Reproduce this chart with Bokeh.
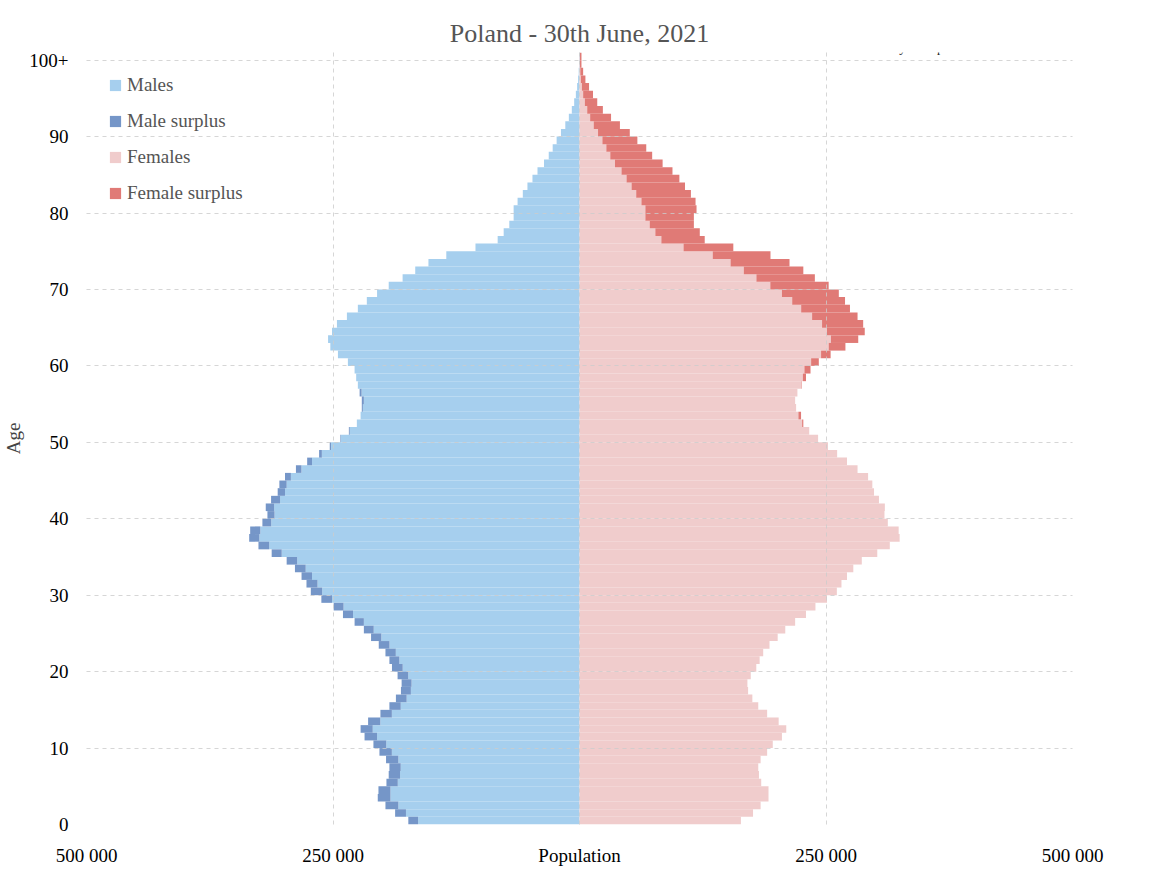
from bokeh.plotting import figure
from bokeh.models import Range1d, FixedTicker, Label, Legend, LegendItem, ColumnDataSource
from bokeh.embed import file_html
from bokeh.resources import INLINE

ages = list(range(0, 101))
males_k = [173.6,187,196.8,204.6,203.9,195.8,193.5,192.8,196.2,202.9,
           209,218,222,214.4,201.9,192.8,186.2,181.1,180.4,184.5,
           190.2,192.8,196.8,203.6,211.4,218.7,228.1,239.9,249.3,261.8,
           272.5,276.9,281.9,288.6,297,312.2,325.6,335,334,321.6,
           316.5,318.2,312.8,306.1,304.4,298.7,287.6,276.2,264.1,253.3,
           242.6,233.9,225.8,222,220.8,220.8,223,224.8,226.5,228.1,
           234.9,245,252.7,255,251,246,235.9,224.8,215.7,205.3,
           193.5,179.4,166.6,153.2,135.1,105.5,83,76.9,71.2,66.8,
           66.8,62.8,57.5,52.8,47.7,42.6,36,31.2,27.2,23.2,
           18.8,14.4,10.8,7.8,5.4,3.7,2.4,1.4,0.8,0.5,0.5]
females_k = [163.7,176,183.7,191.7,191.7,184.3,182,181.3,183.7,190.3,
             196,205.3,209.7,202,190.3,181.3,175.3,171,170.3,173.7,
             179.3,182.7,186.3,192.7,201,208.7,218.7,229.7,239.3,251,
             261,265.7,271.3,277.7,286.3,302,314.7,324.7,323.7,312.7,
             309.3,309.7,303.7,298.7,297,292.7,282,271.3,261.3,252,
             242,233,227,224.7,219.7,218.7,221,225.3,229.7,234.3,
             242.7,254.7,269.7,282.7,289.3,287.7,282,274.3,269.3,263,
             252.7,238.7,227,213,193.7,156,127,122,116,116,
             118.7,117.7,113,107,101.3,94.3,84.3,73.7,67.7,58.7,
             51,41,32,23.7,18,13.7,9.7,6,3.7,2,2]
y_ticks = [0,10,20,30,40,50,60,70,80,90,100]
y_labels = ["0","10","20","30","40","50","60","70","80","90","100+"]
x_ticks = [-500000,-250000,0,250000,500000]
x_labels = ["500 000","250 000","Population","250 000","500 000"]

m = [v*1000 for v in males_k]
f = [v*1000 for v in females_k]
mn = [min(a, b) for a, b in zip(m, f)]
bottom = ages
top = [a+1 for a in ages]

FONT = "Liberation Serif"
p = figure(width=1136, height=875, output_backend="svg", toolbar_location=None,
           x_range=Range1d(-500000, 500000), y_range=Range1d(0, 101),
           min_border_left=79, min_border_right=64, min_border_top=52, min_border_bottom=51)
p.outline_line_color = None
p.background_fill_color = "white"

r1 = p.quad(left=[-v for v in mn], right=[0]*101, bottom=bottom, top=top, color="#A6CFEE", line_width=0)
r2 = p.quad(left=[-v for v in m], right=[-v for v in mn], bottom=bottom, top=top, color="#7596C8", line_width=0)
r3 = p.quad(left=[0]*101, right=mn, bottom=bottom, top=top, color="#F0CCCC", line_width=0)
r4 = p.quad(left=mn, right=f, bottom=bottom, top=top, color="#E07A76", line_width=0)

for ax in (p.xaxis, p.yaxis):
    ax.axis_line_color = None
    ax.major_tick_line_color = None
    ax.minor_tick_line_color = None
    ax.major_label_text_font = FONT
    ax.major_label_text_font_size = "19px"
    ax.major_label_text_color = "black"
p.xaxis.ticker = FixedTicker(ticks=x_ticks)
p.xaxis.major_label_overrides = dict(zip(x_ticks, x_labels))
p.yaxis.ticker = FixedTicker(ticks=y_ticks)
p.yaxis.major_label_overrides = dict(zip(y_ticks, y_labels))
p.yaxis.axis_label = "Age"
p.yaxis.axis_label_text_font = FONT
p.yaxis.axis_label_text_font_style = "normal"
p.yaxis.axis_label_text_font_size = "19px"
p.yaxis.axis_label_standoff = 2
p.yaxis.major_label_standoff = 12
p.xaxis.major_label_standoff = 14

p.grid.grid_line_color = "#cccccc"
p.grid.grid_line_dash = "4 4"
p.grid.level = "overlay"
p.grid.grid_line_alpha = 0.8

p.title.text = "Poland - 30th June, 2021"
p.title.align = "center"
p.title.text_font = FONT
p.title.text_font_style = "normal"
p.title.text_font_size = "26px"
p.title.text_color = "#555555"

legend = Legend(items=[LegendItem(label="Males", renderers=[r1]),
                       LegendItem(label="Male surplus", renderers=[r2]),
                       LegendItem(label="Females", renderers=[r3]),
                       LegendItem(label="Female surplus", renderers=[r4])],
                location="top_left", border_line_color=None, background_fill_alpha=0,
                label_text_font=FONT, label_text_font_size="19px", label_text_color="#555555",
                glyph_width=14, glyph_height=14, spacing=14, margin=22, padding=10)
p.add_layout(legend)

for i, t in enumerate(["Source data: Statistics Poland", "85+ age distribution estimated",
                       "Chart by: u/ExperimentalFailures"]):
    p.add_layout(Label(x=285000, y=106.2 - i*2.3, text=t, text_font=FONT,
                       text_font_size="13px", text_color="#222222", text_baseline="middle"))

open("out.html", "w").write(file_html(p, INLINE))
